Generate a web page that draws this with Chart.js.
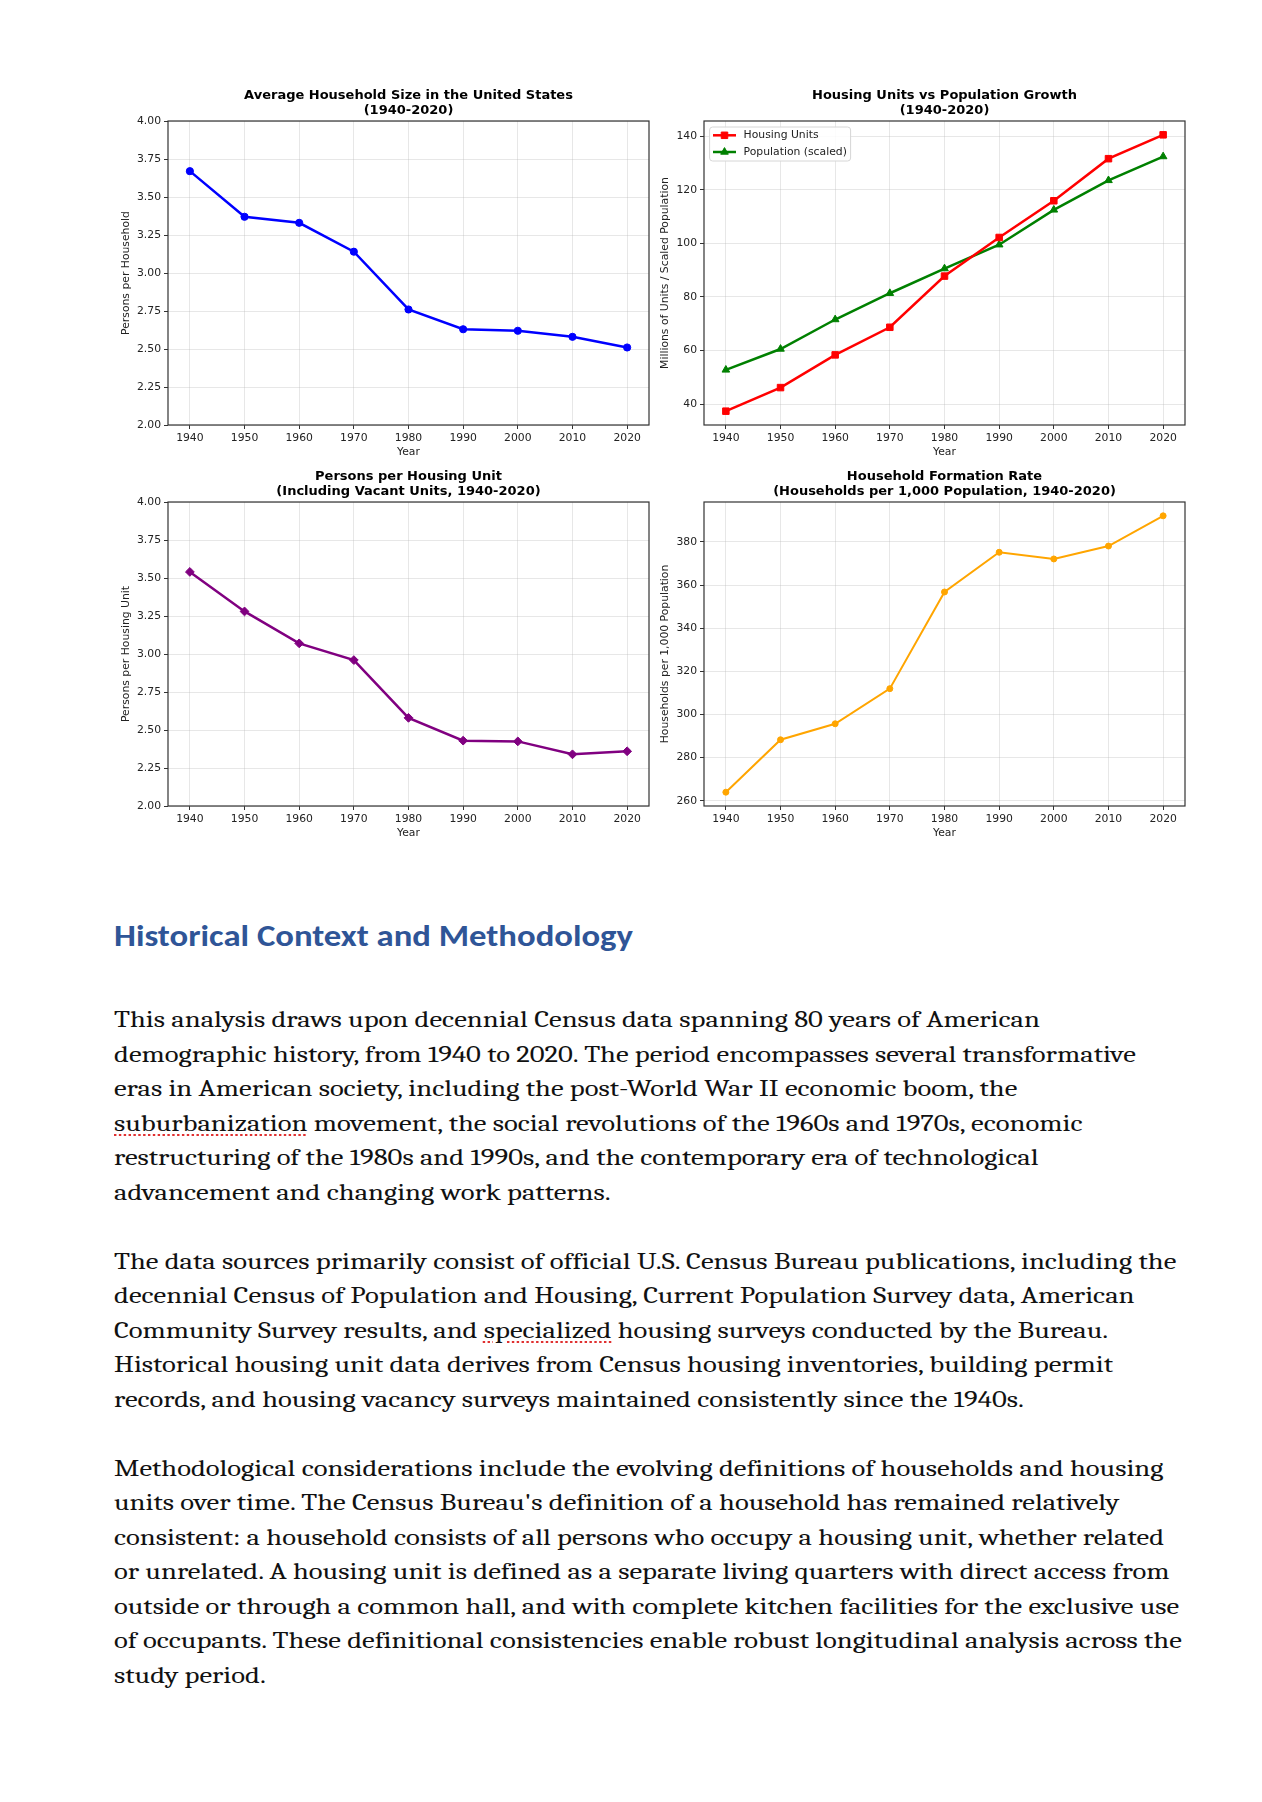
<!DOCTYPE html>
<html>
<head>
<meta charset="utf-8">
<script src="https://cdn.jsdelivr.net/npm/chart.js@4"></script>
<style>
  html, body { margin: 0; padding: 0; background: #fff; }
  body { width: 1262px; height: 1802px; position: relative; overflow: hidden; }
  .box { position: absolute; }
  #text { position: absolute; left: 114px; top: 916px; width: 1100px; }
  #text h2 {
    margin: 0; font-family: Carlito, Lato, sans-serif; font-weight: 700;
    font-size: 30.5px; line-height: 40px; color: #2F5597;
    transform-origin: left top; white-space: nowrap; display: inline-block;
  }
  #body { position: absolute; left: 114px; top: 1003px; width: 1100px; }
  #body p {
    margin: 0 0 34.5px 0; font-family: Caladea, "Liberation Serif", serif;
    font-size: 23.6px; line-height: 34.5px; color: #111; white-space: nowrap;
    transform-origin: left top;
  }
  .sp { text-decoration: underline dotted #e03030; text-decoration-thickness: 2px; text-underline-offset: 4px; }
</style>
</head>
<body>
<div class="box" style="left:100px;top:70px;width:617px;height:401px"><canvas id="chart1"></canvas></div>
<div class="box" style="left:650px;top:70px;width:589px;height:401px"><canvas id="chart2"></canvas></div>
<div class="box" style="left:100px;top:451px;width:617px;height:401px"><canvas id="chart3"></canvas></div>
<div class="box" style="left:650px;top:451px;width:589px;height:401px"><canvas id="chart4"></canvas></div>

<div id="text"><h2 id="heading">Historical Context and Methodology</h2></div>
<div id="body">
<p><span id="firstLine">This analysis draws upon decennial Census data spanning 80 years of American</span><br>
demographic history, from 1940 to 2020. The period encompasses several transformative<br>
eras in American society, including the post-World War II economic boom, the<br>
<span class="sp">suburbanization</span> movement, the social revolutions of the 1960s and 1970s, economic<br>
restructuring of the 1980s and 1990s, and the contemporary era of technological<br>
advancement and changing work patterns.</p>
<p>The data sources primarily consist of official U.S. Census Bureau publications, including the<br>
decennial Census of Population and Housing, Current Population Survey data, American<br>
Community Survey results, and <span class="sp">specialized</span> housing surveys conducted by the Bureau.<br>
Historical housing unit data derives from Census housing inventories, building permit<br>
records, and housing vacancy surveys maintained consistently since the 1940s.</p>
<p>Methodological considerations include the evolving definitions of households and housing<br>
units over time. The Census Bureau's definition of a household has remained relatively<br>
consistent: a household consists of all persons who occupy a housing unit, whether related<br>
or unrelated. A housing unit is defined as a separate living quarters with direct access from<br>
outside or through a common hall, and with complete kitchen facilities for the exclusive use<br>
of occupants. These definitional consistencies enable robust longitudinal analysis across the<br>
study period.</p>
</div>

<script>
// decennial census years
const years = [1940, 1950, 1960, 1970, 1980, 1990, 2000, 2010, 2020];

const householdSize = [3.67, 3.37, 3.33, 3.14, 2.76, 2.63, 2.62, 2.58, 2.51];
const housingUnits = [37.4, 46.2, 58.4, 68.7, 87.8, 102.2, 115.9, 131.6, 140.5];
const populationScaled = [52.8, 60.6, 71.6, 81.4, 90.6, 99.5, 112.5, 123.5, 132.4];
const personsPerUnit = [3.54, 3.28, 3.07, 2.96, 2.58, 2.43, 2.425, 2.34, 2.36];
const formationRate = [264.0, 288.3, 295.7, 312.0, 356.8, 375.2, 372.1, 378.1, 392.1];

const sizeTicks = [2.00, 2.25, 2.50, 2.75, 3.00, 3.25, 3.50, 3.75, 4.00];
const unitTicks = [40, 60, 80, 100, 120, 140];
const rateTicks = [260, 280, 300, 320, 340, 360, 380];

const FONT = 'DejaVu Sans';
const TXT = '#222';
const GRID = 'rgba(176,176,176,0.3)';

function points(vals) {
    return years.map((yr, i) => ({ x: yr, y: vals[i] }));
}

// matplotlib style 5% margins
function autoRange(...series) {
    const all = [].concat(...series);
    const lo = Math.min(...all), hi = Math.max(...all);
    const pad = (hi - lo) * 0.05;
    return [lo - pad, hi + pad];
}

const framePlugin = {
    id: 'frame',
    afterDatasetsDraw(chart) {
        const { ctx, chartArea: a } = chart;
        ctx.save();
        ctx.strokeStyle = '#333';
        ctx.lineWidth = 1.2;
        ctx.strokeRect(a.left, a.top, a.right - a.left, a.bottom - a.top);
        ctx.restore();
    }
};

const mplLegend = {
    id: 'mplLegend',
    afterDraw(chart, args, opts) {
        if (!opts.show) return;
        const { ctx, chartArea: a } = chart;
        ctx.save();
        const bx = a.left + 5.6, by = a.top + 6, bw = 141, bh = 34;
        ctx.beginPath();
        ctx.roundRect(bx, by, bw, bh, 3);
        ctx.fillStyle = 'rgba(255,255,255,0.85)';
        ctx.fill();
        ctx.strokeStyle = '#d6d6d6';
        ctx.lineWidth = 1;
        ctx.stroke();
        chart.data.datasets.forEach((ds, i) => {
            const y = a.top + 14.3 + i * 16.7;
            ctx.strokeStyle = ds.borderColor;
            ctx.lineWidth = 2.5;
            ctx.beginPath();
            ctx.moveTo(a.left + 9, y);
            ctx.lineTo(a.left + 32, y);
            ctx.stroke();
            ctx.fillStyle = ds.borderColor;
            ctx.lineWidth = 1;
            Chart.helpers.drawPoint(ctx, {
                pointStyle: ds.pointStyle, radius: ds.pointRadius, rotation: 0, borderWidth: 1
            }, a.left + 20.5, y);
            ctx.fillStyle = TXT;
            ctx.font = '10.8px "' + FONT + '"';
            ctx.textBaseline = 'middle';
            ctx.textAlign = 'left';
            ctx.fillText(ds.label, a.left + 39.6, y);
        });
        ctx.restore();
    }
};

function makeChart(id, cfg) {
    const ctx = document.getElementById(id).getContext('2d');
    const yTicks = cfg.yTicks;
    return new Chart(ctx, {
        type: 'line',
        data: { datasets: cfg.datasets },
        options: {
            responsive: true,
            maintainAspectRatio: false,
            animation: false,
            layout: { padding: 0 },
            plugins: {
                legend: { display: false },
                tooltip: { enabled: false },
                title: {
                    display: true,
                    text: cfg.title,
                    color: '#000',
                    font: { family: FONT, size: 13, weight: 'bold', lineHeight: 1.1 },
                    padding: { top: 18.9, bottom: 3.5 }
                },
                mplLegend: { show: !!cfg.legend }
            },
            scales: {
                x: {
                    type: 'linear',
                    min: 1936,
                    max: 2024,
                    afterBuildTicks: axis => { axis.ticks = years.map(v => ({ value: v })); },
                    afterFit: scale => { scale.height = 46; },
                    grid: { color: GRID, lineWidth: 1, tickLength: 4, tickColor: '#333', tickWidth: 1 },
                    border: { display: false },
                    ticks: {
                        color: TXT, font: { family: FONT, size: 10.8 }, padding: 3, maxRotation: 0,
                        callback: v => String(v)
                    },
                    title: {
                        display: true, text: 'Year', color: TXT,
                        font: { family: FONT, size: 10.8 }, padding: { top: 0, bottom: 12.7 }
                    }
                },
                y: {
                    min: cfg.yMin,
                    max: cfg.yMax,
                    afterBuildTicks: axis => { axis.ticks = yTicks.map(v => ({ value: v })); },
                    afterFit: scale => { scale.width = cfg.side; },
                    grid: { color: GRID, lineWidth: 1, tickLength: 4, tickColor: '#333', tickWidth: 1 },
                    border: { display: false },
                    ticks: {
                        color: TXT, font: { family: FONT, size: 10.8 }, padding: 3,
                        callback: v => cfg.decimals ? Number(v).toFixed(cfg.decimals) : String(v)
                    },
                    title: {
                        display: true, text: cfg.yTitle, color: TXT,
                        font: { family: FONT, size: 10.8 }, padding: { top: cfg.yTitlePad, bottom: 0 }
                    }
                },
                // empty right axis so the title centres over the plot
                yR: {
                    position: 'right',
                    min: 0,
                    max: 1,
                    afterFit: scale => { scale.width = cfg.side; },
                    grid: { display: false },
                    border: { display: false },
                    ticks: { display: false }
                }
            }
        },
        plugins: [framePlugin, mplLegend]
    });
}

function series(label, vals, color, style, radius, width) {
    return {
        label: label,
        data: points(vals),
        borderColor: color,
        backgroundColor: color,
        borderWidth: width,
        pointStyle: style,
        pointRadius: radius,
        pointBackgroundColor: color,
        pointBorderColor: color,
        pointBorderWidth: 1,
        tension: 0,
        fill: false
    };
}

const unitRange = autoRange(housingUnits, populationScaled);
const rateRange = autoRange(formationRate);

makeChart('chart1', {
    title: ['Average Household Size in the United States', '(1940-2020)'],
    datasets: [series('Household Size', householdSize, '#0000ff', 'circle', 3.6, 2.5)],
    yMin: 2, yMax: 4, yTicks: sizeTicks, decimals: 2,
    yTitle: 'Persons per Household', yTitlePad: 19.4, side: 68
});

makeChart('chart2', {
    title: ['Housing Units vs Population Growth', '(1940-2020)'],
    datasets: [
        series('Housing Units', housingUnits, '#ff0000', 'rect', 4.6, 2.5),
        series('Population (scaled)', populationScaled, '#008000', 'triangle', 4.4, 2.5)
    ],
    yMin: unitRange[0], yMax: unitRange[1], yTicks: unitTicks, decimals: 0,
    yTitle: 'Millions of Units / Scaled Population', yTitlePad: 8.4, side: 54, legend: true
});

makeChart('chart3', {
    title: ['Persons per Housing Unit', '(Including Vacant Units, 1940-2020)'],
    datasets: [series('Persons per Unit', personsPerUnit, '#800080', 'rectRot', 4.4, 2.5)],
    yMin: 2, yMax: 4, yTicks: sizeTicks, decimals: 2,
    yTitle: 'Persons per Housing Unit', yTitlePad: 19.4, side: 68
});

makeChart('chart4', {
    title: ['Household Formation Rate', '(Households per 1,000 Population, 1940-2020)'],
    datasets: [series('Formation Rate', formationRate, '#ffa500', 'circle', 3.0, 2)],
    yMin: rateRange[0], yMax: rateRange[1], yTicks: rateTicks, decimals: 0,
    yTitle: 'Households per 1,000 Population', yTitlePad: 8.4, side: 54
});

// fit the text block widths to the page
function fitText() {
    const h = document.getElementById('heading');
    const hw = h.getBoundingClientRect().width;
    h.style.transform = 'scaleX(' + (519 / hw) + ')';
    const first = document.getElementById('firstLine');
    const fw = first.getBoundingClientRect().width;
    const s = 926 / fw;
    document.querySelectorAll('#body p').forEach(p => {
        p.style.transform = 'scaleX(' + s + ')';
    });
}
fitText();
</script>
</body>
</html>
